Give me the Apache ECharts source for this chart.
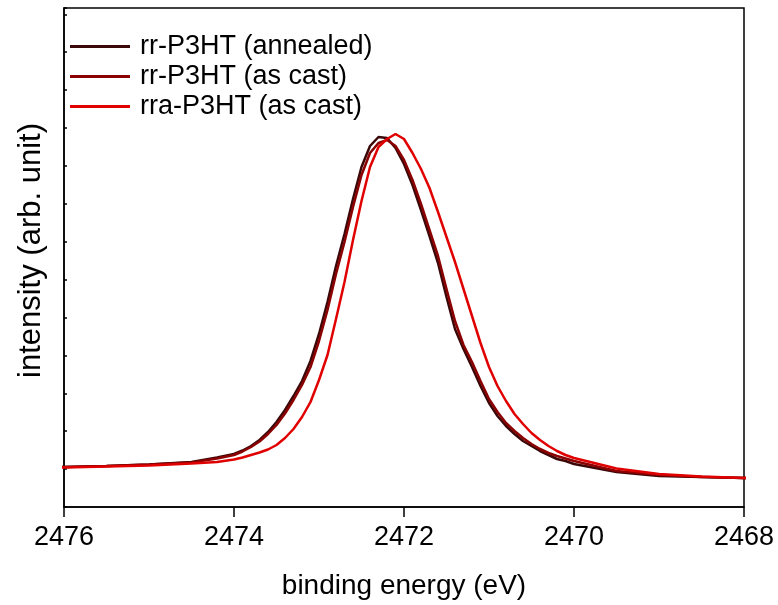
<!DOCTYPE html>
<html>
<head>
<meta charset="utf-8">
<script src="https://cdn.jsdelivr.net/npm/echarts@6/dist/echarts.min.js"></script>
<style>html,body{margin:0;padding:0;background:#fff;overflow:hidden;}#c{width:778px;height:605px;}</style>
</head>
<body>
<div id="c"></div>
<script>
// binding energy grid (eV); the measured traces run slightly past the axis ends
var energies = [2476.07, 2476, 2475.5, 2475, 2474.5, 2474.2,
  2474.0, 2473.9, 2473.8, 2473.7, 2473.6, 2473.5, 2473.4, 2473.3, 2473.2, 2473.1,
  2473.0, 2472.9, 2472.8, 2472.7, 2472.6, 2472.5, 2472.4, 2472.3, 2472.2, 2472.1,
  2472.0, 2471.9, 2471.8, 2471.7, 2471.6, 2471.5, 2471.4, 2471.3, 2471.2, 2471.1,
  2471.0, 2470.9, 2470.8, 2470.7, 2470.6, 2470.5, 2470.4, 2470.3, 2470.2, 2470.1,
  2470.0, 2469.5, 2469, 2468.5, 2468, 2467.93];

// intensities (arb. unit)
var rrAnnealed = [40, 40, 41, 42.5, 45, 49.5,
  53, 56.5, 61, 67, 75, 85, 97, 111, 126, 146,
  173, 205, 241, 273, 308, 340, 361, 370, 369, 359,
  343, 322, 297, 271, 244, 210, 178, 158, 140, 121,
  104, 91, 81, 73, 66, 61, 56, 52, 48, 46,
  43, 35, 31, 30, 29, 29];

var rrAsCast = [40, 40, 41, 42.5, 44.5, 48.5,
  52, 55.5, 60, 65.5, 73, 82, 93.5, 107, 122, 140,
  166, 197, 233, 265, 300, 332, 354, 364, 367, 361,
  347, 327, 303, 277, 251, 218, 186, 162, 145, 126,
  108, 95, 84, 76, 69, 63, 58, 54, 51, 48.5,
  46, 36, 32, 30, 29, 29];

var rraAsCast = [39.5, 39.5, 40.5, 41.5, 43.5, 45,
  47.5, 49.5, 52, 54.5, 57.5, 62, 69, 78, 90, 105,
  127, 152, 188, 225, 267, 306, 340, 360, 368, 373,
  368, 354, 338, 319, 295, 270, 245, 218, 191, 164,
  140, 121, 106, 93, 83, 74, 67, 61, 56, 52,
  49, 38.5, 33, 30.5, 29, 29];

var seriesNames = ['rr-P3HT (annealed)', 'rr-P3HT (as cast)', 'rra-P3HT (as cast)'];
var seriesColors = ['#3a0808', '#8b0000', '#e00000'];
var seriesValues = [rrAnnealed, rrAsCast, rraAsCast];

function pairs(vals) {
  return energies.map(function (e, i) { return [e, vals[i]]; });
}

var font = 'Liberation Sans, Arial, sans-serif';
var chart = echarts.init(document.getElementById('c'), null, {renderer: 'canvas'});
chart.setOption({
  animation: false,
  backgroundColor: '#fff',
  grid: {left: 64, right: 34, top: 8, bottom: 98, containLabel: false, outerBoundsMode: 'none',
    show: true, borderColor: '#000', borderWidth: 1.5, backgroundColor: 'transparent'},
  legend: {
    orient: 'vertical', left: 65, top: 28, itemWidth: 60, itemHeight: 14, itemGap: 3,
    icon: 'path://M0,5.5 L60,5.5 L60,8.5 L0,8.5 Z',
    textStyle: {fontFamily: font, fontSize: 27, color: '#000', padding: [0, 0, 0, 5]},
    data: seriesNames
  },
  xAxis: {
    type: 'value', min: 2468, max: 2476, interval: 2, inverse: true,
    name: 'binding energy (eV)', nameLocation: 'middle', nameGap: 65,
    nameTextStyle: {fontFamily: font, fontSize: 28, color: '#000'},
    axisLine: {show: true, lineStyle: {color: '#000', width: 1.5}},
    axisTick: {show: true, inside: false, length: 10, lineStyle: {color: '#000', width: 1.5}},
    axisLabel: {fontFamily: font, fontSize: 27, color: '#000', margin: 17,
      formatter: function (v) { return String(v); }},
    splitLine: {show: false}
  },
  yAxis: {
    type: 'value', min: 0, max: 499, interval: 37.9,
    name: 'intensity (arb. unit)', nameLocation: 'middle', nameGap: 17,
    nameTextStyle: {fontFamily: font, fontSize: 31, color: '#000', padding: [0, 0, 0, 14]},
    axisLine: {show: true, lineStyle: {color: '#000', width: 1.5}},
    axisTick: {show: true, inside: true, length: 3, lineStyle: {color: '#000', width: 1.5}},
    axisLabel: {show: false},
    splitLine: {show: false}
  },
  series: seriesNames.map(function (n, i) {
    return {
      name: n, type: 'line', data: pairs(seriesValues[i]),
      symbol: 'none', showSymbol: false, smooth: false, clip: false,
      lineStyle: {color: seriesColors[i], width: 2.5},
      itemStyle: {color: seriesColors[i]}
    };
  })
});
</script>
</body>
</html>
